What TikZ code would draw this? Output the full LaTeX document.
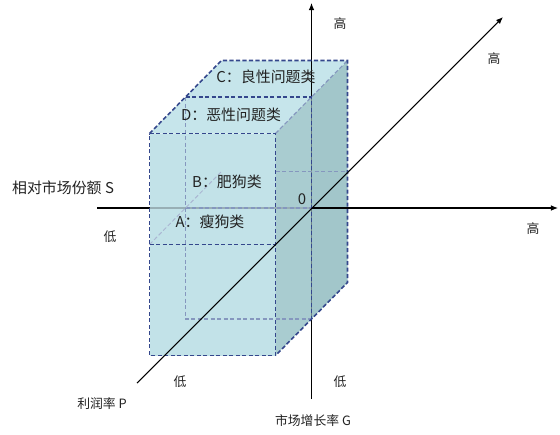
\documentclass[tikz,border=0pt]{standalone}
\usepackage{fontspec}
\setmainfont{Noto Sans CJK SC}
\usetikzlibrary{arrows.meta}
\definecolor{frontc}{HTML}{C2E2E8}
\definecolor{topc}{HTML}{C6E5EB}
\definecolor{sidefront}{HTML}{A9CCD0}
\definecolor{sideback}{HTML}{A2C6CA}
\definecolor{edgedark}{HTML}{34478C}
\definecolor{edgelight}{HTML}{8597BE}
\definecolor{faintaxis}{HTML}{98AFB5}
\definecolor{txt}{HTML}{222222}
\tikzset{
  axisline/.style={line width=0.6pt, black},
  arrowaxis/.style={axisline, -{Latex[length=4pt,width=3.2pt]}},
  darkedge/.style={edgedark, line width=0.9pt, dash pattern=on 2.4pt off 1.3pt},
  lightedge/.style={edgelight, line width=0.65pt, dash pattern=on 2.4pt off 1.3pt},
  faintedge/.style={edgelight!70, line width=0.55pt, dash pattern=on 2.4pt off 1.3pt},
  boxlabel/.style={font=\fontsize{8.5}{10}\selectfont, text=txt, inner sep=0pt},
  axislabel/.style={font=\fontsize{7.3}{9}\selectfont, text=txt, inner sep=0pt},
  biglabel/.style={font=\fontsize{8.5}{10}\selectfont, text=txt, inner sep=0pt}
}
\begin{document}
\begin{tikzpicture}[x=0.02cm,y=-0.02cm]
\useasboundingbox (0,0) rectangle (560,434);
% front plane
\coordinate (F1) at (149.5,133.5);
\coordinate (F2) at (275.5,133.5);
\coordinate (F3) at (275.5,355.5);
\coordinate (F4) at (149.5,355.5);
\coordinate (FL) at (149.5,244.5);
\coordinate (FR) at (275.5,244.5);
% middle plane
\coordinate (M1) at (185.5,97);
\coordinate (M2) at (311.5,97);
\coordinate (M3) at (311.5,319);
\coordinate (M4) at (185.5,319);
\coordinate (ML) at (185.5,208);
% back plane
\coordinate (B1) at (221.5,60.5);
\coordinate (B2) at (347.5,60.5);
\coordinate (B3) at (347.5,282.5);
\coordinate (BL) at (221.5,171.5);
\coordinate (BM) at (275.5,171.5);
\coordinate (BR) at (347.5,171.5);
% axes
\coordinate (O) at (311.5,208);
\coordinate (HS) at (97,208);
\coordinate (HE) at (558,208);
\coordinate (HF) at (149.5,208);
\coordinate (VS) at (311.5,399);
\coordinate (VE) at (311.5,3);
\coordinate (DS) at (137,383);
\coordinate (DE) at (503,17);

% back half of the box
\fill[sideback] (M2) -- (B2) -- (B3) -- (M3) -- cycle;
\fill[topc] (M1) -- (B1) -- (B2) -- (M2) -- cycle;

% axes behind the front half
\draw[arrowaxis] (HS) -- (HE);
\draw[arrowaxis] (VS) -- (VE);

% front half of the box
\fill[frontc] (F1) -- (F2) -- (F3) -- (F4) -- cycle;
\fill[topc] (F1) -- (M1) -- (M2) -- (F2) -- cycle;
\fill[sidefront] (F2) -- (M2) -- (M3) -- (F3) -- cycle;

% faint axis seen through the front half
\draw[faintaxis, line width=0.6pt] (HF) -- (O);

% hidden edges
\draw[lightedge] (M1) -- (M4) -- (M3);
\draw[lightedge] (ML) -- (O);
\draw[lightedge] (BM) -- (BR);
\draw[faintedge] (FL) -- (BL);
\draw[lightedge] (F2) -- (B2);

% visible edges
\draw[darkedge] (F1) -- (F2) -- (F3) -- (F4) -- cycle;
\draw[darkedge] (FL) -- (FR);
\draw[darkedge] (F1) -- (B1) -- (B2) -- (B3) -- (F3);
\draw[darkedge] (M1) -- (M2) -- (M3);

% depth axis in front
\draw[arrowaxis] (DS) -- (DE);

% labels
\node[boxlabel] (lc) at (266,77) {C：良性问题类};
\node[boxlabel] (ld) at (231,115) {D：恶性问题类};
\node[boxlabel] (lb) at (227,182) {B：肥狗类};
\node[boxlabel] (la) at (210,222) {A：瘦狗类};
\node[boxlabel] (zero) at (302,199) {0};
\node[axislabel] (h1) at (340,24) {高};
\node[axislabel] (h2) at (494,59) {高};
\node[axislabel] (h3) at (533,229) {高};
\node[axislabel] (l1) at (110,237) {低};
\node[axislabel] (l2) at (180,382) {低};
\node[axislabel] (l3) at (340,382) {低};
\node[biglabel] (ls) at (63,188) {相对市场份额 S};
\node[axislabel] (lp) at (102,404) {利润率 P};
\node[axislabel] (lg) at (313,421) {市场增长率 G};
\end{tikzpicture}
\end{document}
